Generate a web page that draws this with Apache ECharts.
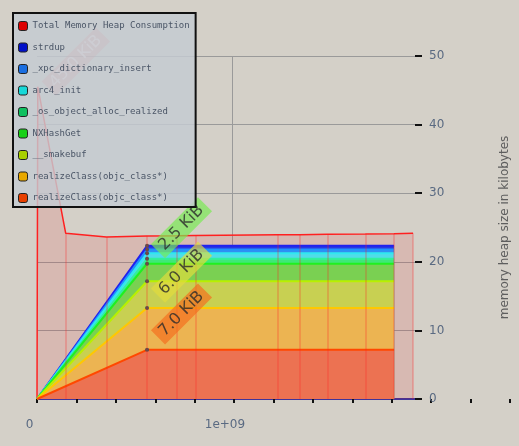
<!DOCTYPE html>
<html><head><meta charset="utf-8">
<script src="https://cdn.jsdelivr.net/npm/echarts@6/dist/echarts.min.js"></script>
<style>html,body{margin:0;padding:0;background:#d4d0c8;} #c{width:519px;height:446px;}</style>
</head><body><div id="c"></div>
<script>
// ---- data (time in instructions, memory in kilobytes) ----
const totalTimes  = [0, 0.004e9, 0.147e9, 0.355e9, 0.563e9, 0.716e9, 0.812e9, 1.234e9, 1.345e9, 1.487e9, 1.680e9, 1.827e9, 1.924e9];
const totalValues = [0, 45.5, 24.15, 23.6, 23.75, 23.8, 23.85, 23.95, 23.95, 24.0, 24.05, 24.1, 24.15];

const stackTimes = [0, 0.563e9, 0.716e9, 0.812e9, 1.234e9, 1.345e9, 1.487e9, 1.680e9, 1.827e9];
const realizeClassB = [0, 7.17, 7.17, 7.17, 7.17, 7.17, 7.17, 7.17, 7.17];
const realizeClassA = [0, 6.1, 6.1, 6.1, 6.1, 6.1, 6.1, 6.1, 6.1];
const smakebuf      = [0, 3.9, 3.9, 3.9, 3.9, 3.9, 3.9, 3.9, 3.9];
const nxHashGet     = [0, 2.56, 2.56, 2.56, 2.56, 2.56, 2.56, 2.56, 2.56];
const osObjectAlloc = [0, 0.7, 0.7, 0.7, 0.7, 0.7, 0.7, 0.7, 0.7];
const arc4Init      = [0, 0.8, 0.8, 0.8, 0.8, 0.8, 0.8, 0.8, 0.8];
const xpcDictInsert = [0, 0.55, 0.55, 0.55, 0.55, 0.55, 0.55, 0.55, 0.55];
const strdupVals    = [0, 0.55, 0.55, 0.55, 0.55, 0.55, 0.55, 0.55, 0.55];

const peakIndex = 1; // detailed snapshot
const peakLabels = ['7.0 KiB', '6.0 KiB', '2.5 KiB'];
const peakLabelBands = [0, 1, 3]; // realizeClass, realizeClass, NXHashGet
const totalPeakLabel = '45.0 KiB';
const xTickLabels = {0: '0', 1000000000: '1e+09'};
const yAxisName = 'memory heap size in kilobytes';
const totalName = 'Total Memory Heap Consumption';

// ---- styles ----
const stackDefs = [ // bottom -> top
  {name: 'realizeClass(objc_class*) ', vals: realizeClassB, legend: '#e84000', line: '#ff4800', fill: '#ec7252'},
  {name: 'realizeClass(objc_class*)', vals: realizeClassA, legend: '#e8a800', line: '#ffc800', fill: '#ecb452'},
  {name: '__smakebuf', vals: smakebuf, legend: '#a8d000', line: '#b8f000', fill: '#c8d052'},
  {name: 'NXHashGet', vals: nxHashGet, legend: '#18d018', line: '#20f020', fill: '#7ad052'},
  {name: '_os_object_alloc_realized', vals: osObjectAlloc, legend: '#10c060', line: '#30f0a0', fill: '#40e878'},
  {name: 'arc4_init', vals: arc4Init, legend: '#18d8d8', line: '#30e8f0', fill: '#50dce8'},
  {name: '_xpc_dictionary_insert', vals: xpcDictInsert, legend: '#1a6ee0', line: '#2090ff', fill: '#3090f0'},
  {name: 'strdup', vals: strdupVals, legend: '#0010c8', line: '#2020f0', fill: '#2838e0'}
];
const labelBg = ['rgba(245,110,30,0.85)', 'rgba(225,220,60,0.85)', 'rgba(120,235,80,0.85)'];

// cumulative tops (stacking done here; drawn top-first so lower bands paint over)
const cumulative = [];
let running = stackTimes.map(() => 0);
stackDefs.forEach(d => {
  running = running.map((v, i) => v + d.vals[i]);
  cumulative.push(running.slice());
});

const series = [];
series.push({
  name: totalName, type: 'line', xAxisIndex: 0, yAxisIndex: 0, z: 1,
  data: totalTimes.map((t, i) => [t, totalValues[i]]),
  symbol: 'none', itemStyle: {color: '#dd0000'},
  lineStyle: {color: '#ff2020', width: 1.5},
  areaStyle: {color: 'rgba(240,20,20,0.17)'}
});
for (let k = stackDefs.length - 1; k >= 0; k--) {
  const d = stackDefs[k];
  series.push({
    name: d.name, type: 'line', xAxisIndex: 0, yAxisIndex: 0, z: 2,
    data: stackTimes.map((t, i) => i === peakIndex
      ? {value: [t, cumulative[k][i]], symbol: 'circle', symbolSize: 4, itemStyle: {color: '#505050'}}
      : {value: [t, cumulative[k][i]], symbol: 'none'}),
    symbol: 'none', showSymbol: true,
    itemStyle: {color: d.legend},
    lineStyle: {color: d.line, width: 2},
    areaStyle: {color: d.fill, opacity: 1}
  });
}
// snapshot lines
series.push({
  type: 'line', xAxisIndex: 0, yAxisIndex: 0, z: 3, data: [], silent: true,
  markLine: {
    silent: true, symbol: 'none', label: {show: false},
    lineStyle: {color: 'rgba(255,30,30,0.22)', width: 2, type: 'solid'},
    data: totalTimes.slice(2).map((t, i) => [{coord: [t, 0]}, {coord: [t, totalValues[i + 2]]}])
  }
});
// peak labels
const labelPoints = peakLabels.map((s, k) => ({value: [stackTimes[peakIndex], cumulative[peakLabelBands[k]][peakIndex]], label: {backgroundColor: labelBg[k]}}));
labelPoints.push({value: [totalTimes[1], totalValues[1]],
  label: {backgroundColor: 'rgba(235,60,60,0.35)', color: 'rgba(255,235,235,0.9)', offset: [6.5, 9]}});
const allLabels = peakLabels.concat([totalPeakLabel]);
series.push({
  type: 'scatter', xAxisIndex: 0, yAxisIndex: 0, z: 10, silent: true,
  symbolSize: 0, data: labelPoints,
  label: {
    show: true, formatter: p => allLabels[p.dataIndex],
    position: 'right', distance: 0, offset: [16.5, -1], rotate: 45,
    fontSize: 16, fontFamily: 'DejaVu Sans', color: '#2a2a2a', padding: [2, 5]
  }
});

const chart = echarts.init(document.getElementById('c'), null, {renderer: 'canvas'});
chart.setOption({
  backgroundColor: '#d4d0c8',
  animation: false,
  grid: [
    {left: 37, right: 101, top: 56, bottom: 47},
    {left: 37, width: 473, top: 56, bottom: 47}
  ],
  xAxis: [
    {gridIndex: 0, type: 'value', min: 0, max: 1.934e9, interval: 1e9,
     axisLine: {show: true, onZero: false, lineStyle: {color: '#40349a', width: 2}},
     axisTick: {show: false},
     splitLine: {show: true, showMaxLine: false, showMinLine: false, lineStyle: {color: '#9a9a9a', width: 1}},
     axisLabel: {formatter: v => xTickLabels[v] !== undefined ? xTickLabels[v] : '', margin: 20, color: '#5a6a82',
                 fontSize: 12, fontFamily: 'DejaVu Sans', padding: [0, 15, 0, 0], showMaxLabel: false}},
    {gridIndex: 1, type: 'value', min: 0, max: 2.4e9, interval: 0.2e9,
     axisLine: {show: false, onZero: false}, splitLine: {show: false}, axisLabel: {show: false},
     axisTick: {show: true, length: 4, lineStyle: {color: '#111', width: 2}}}
  ],
  yAxis: [
    {gridIndex: 0, type: 'value', position: 'right', min: 0, max: 50, interval: 10,
     axisLine: {show: false, onZero: false},
     axisTick: {show: true, length: 7, lineStyle: {color: '#111', width: 2}},
     splitLine: {show: true, showMinLine: false, lineStyle: {color: '#9a9a9a', width: 1}},
     axisLabel: {margin: 14, color: '#5a6a82', fontSize: 12, fontFamily: 'DejaVu Sans'},
     name: yAxisName, nameLocation: 'middle', nameRotate: 90, nameGap: 84,
     nameTextStyle: {color: '#5e5e5e', fontSize: 12, fontFamily: 'DejaVu Sans'}},
    {gridIndex: 1, type: 'value', min: 0, max: 50, show: false,
     axisLine: {show: false, onZero: false}, axisTick: {show: false}, axisLabel: {show: false}, splitLine: {show: false}}
  ],
  legend: {
    orient: 'vertical', left: 13, top: 13, z: 20,
    itemWidth: 9, itemHeight: 9, itemGap: 11.5, icon: 'roundRect',
    padding: [8, 6, 4, 5],
    backgroundColor: 'rgba(196,202,210,0.82)', borderColor: '#111', borderWidth: 2,
    itemStyle: {borderColor: '#222', borderWidth: 1},
    textStyle: {fontFamily: 'DejaVu Sans Mono', fontSize: 9, lineHeight: 10, color: '#4a5566'},
    data: [totalName].concat(stackDefs.slice().reverse().map(d => d.name))
  },
  series: series
});
</script></body></html>
